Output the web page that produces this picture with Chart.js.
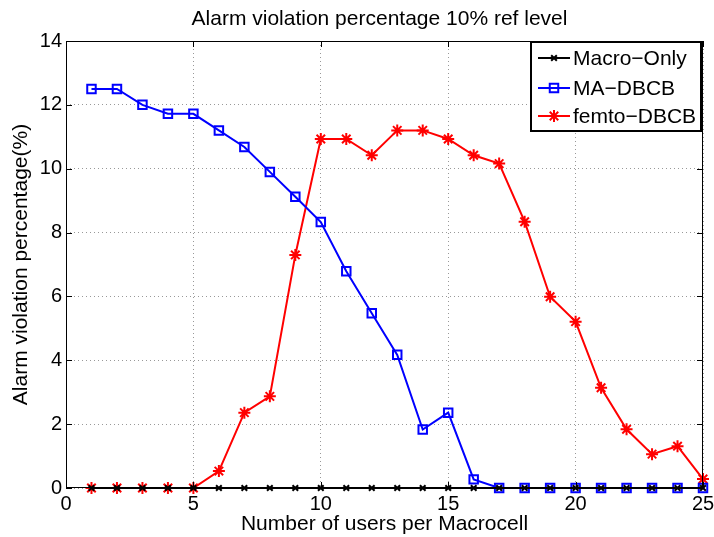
<!DOCTYPE html>
<html>
<head>
<meta charset="utf-8">
<script src="https://cdn.jsdelivr.net/npm/chart.js@4.4.1/dist/chart.umd.min.js"></script>
<style>
  html, body { margin: 0; padding: 0; background: #fff; }
  #wrap { width: 714px; height: 537px; position: relative; }
</style>
</head>
<body>
<div id="wrap"><canvas id="chart"></canvas></div>
<script>
// ── Data ──────────────────────────────────────────────────────────────────────
const users = [1, 2, 3, 4, 5, 6, 7, 8, 9, 10, 11, 12, 13, 14, 15, 16, 17, 18, 19, 20, 21, 22, 23, 24, 25];
const macroOnly = [0, 0, 0, 0, 0, 0, 0, 0, 0, 0, 0, 0, 0, 0, 0, 0, 0, 0, 0, 0, 0, 0, 0, 0, 0];
const maDbcb = [12.5, 12.5, 12.0, 11.72, 11.72, 11.2, 10.68, 9.9, 9.12, 8.33, 6.79, 5.47, 4.17, 1.83, 2.36, 0.27, 0, 0, 0, 0, 0, 0, 0, 0, 0];
const femtoDbcb = [0, 0, 0, 0, 0, 0.53, 2.36, 2.87, 7.3, 10.93, 10.93, 10.42, 11.2, 11.2, 10.93, 10.42, 10.16, 8.34, 5.99, 5.21, 3.14, 1.84, 1.06, 1.31, 0.28];
const seriesNames = ['Macro\u2212Only', 'MA\u2212DBCB', 'femto\u2212DBCB'];
const xTicks = [0, 5, 10, 15, 20, 25];
const yTicks = [0, 2, 4, 6, 8, 10, 12, 14];
const titleText = 'Alarm violation percentage 10% ref level';

const FONT = "'Liberation Sans', Arial, Helvetica, sans-serif";
const pts = arr => arr.map((v, i) => ({ x: users[i], y: v }));

// ── Plugins ───────────────────────────────────────────────────────────────────
// title centred over the axes (MATLAB style)
const axesTitle = {
    id: 'axesTitle',
    afterDraw(chart) {
        const { ctx, chartArea: a } = chart;
        ctx.save();
        ctx.font = `21px ${FONT}`;
        ctx.fillStyle = '#000';
        ctx.textAlign = 'center';
        ctx.textBaseline = 'alphabetic';
        ctx.fillText(titleText, (a.left + a.right) / 2 - 5, 25);
        ctx.restore();
    }
};

// box round the axes + inward ticks
const boxPlugin = {
    id: 'box',
    afterDraw(chart) {
        const { ctx, chartArea: a, scales } = chart;
        ctx.save();
        ctx.strokeStyle = '#000';
        ctx.lineWidth = 1;
        ctx.strokeRect(a.left + 0.5, a.top + 0.5, a.right - a.left - 1, a.bottom - a.top - 1);
        ctx.beginPath();
        xTicks.forEach(t => {
            const x = Math.round(scales.x.getPixelForValue(t)) + 0.5;
            ctx.moveTo(x, a.bottom); ctx.lineTo(x, a.bottom - 6);
            ctx.moveTo(x, a.top); ctx.lineTo(x, a.top + 6);
        });
        yTicks.forEach(t => {
            const y = Math.round(scales.y.getPixelForValue(t)) + 0.5;
            ctx.moveTo(a.left, y); ctx.lineTo(a.left + 6, y);
            ctx.moveTo(a.right, y); ctx.lineTo(a.right - 6, y);
        });
        ctx.stroke();
        ctx.restore();
    }
};

// legend drawn inside the plot, top right
const insideLegend = {
    id: 'insideLegend',
    afterDraw(chart) {
        const { ctx, chartArea: a } = chart;
        const w = 170, h = 89;
        const x0 = a.right - 2 - w, y0 = a.top + 1;
        ctx.save();
        ctx.fillStyle = '#fff';
        ctx.fillRect(x0, y0, w, h);
        ctx.strokeStyle = '#000';
        ctx.lineWidth = 2;
        ctx.strokeRect(x0, y0, w, h);
        ctx.font = `21px ${FONT}`;
        ctx.textBaseline = 'middle';
        const rows = [16, 46, 74];
        chart.data.datasets.forEach((ds, i) => {
            const y = y0 + rows[i];
            ctx.strokeStyle = ds.borderColor;
            ctx.lineWidth = 2;
            ctx.beginPath();
            ctx.moveTo(x0 + 7, y); ctx.lineTo(x0 + 39, y);
            ctx.stroke();
            ctx.fillStyle = 'rgba(0,0,0,0)';
            Chart.helpers.drawPoint(ctx, {
                pointStyle: ds.pointStyle, radius: ds.pointRadius, borderWidth: ds.pointBorderWidth || 2
            }, x0 + 23, y);
            ctx.fillStyle = '#000';
            ctx.fillText(ds.label, x0 + 42, y + 1);
        });
        ctx.restore();
    }
};

// ── Chart ─────────────────────────────────────────────────────────────────────
Chart.defaults.font.family = FONT;
Chart.defaults.color = '#000';

new Chart(document.getElementById('chart'), {
    type: 'line',
    data: {
        datasets: [
            {
                label: seriesNames[0], data: pts(macroOnly), clip: false,
                borderColor: '#000', backgroundColor: 'rgba(0,0,0,0)',
                pointStyle: 'crossRot', pointRadius: 4, pointBorderWidth: 2, borderWidth: 2
            },
            {
                label: seriesNames[1], data: pts(maDbcb), clip: false,
                borderColor: '#0000FF', backgroundColor: 'rgba(0,0,0,0)',
                pointStyle: 'rect', pointRadius: 6, pointBorderWidth: 2, borderWidth: 2
            },
            {
                label: seriesNames[2], data: pts(femtoDbcb), clip: false,
                borderColor: '#FF0000', backgroundColor: 'rgba(0,0,0,0)',
                pointStyle: 'star', pointRadius: 6, pointBorderWidth: 2, borderWidth: 2
            }
        ]
    },
    options: {
        responsive: true, maintainAspectRatio: false, animation: false,
        layout: { padding: { left: 0, right: 4, top: 41, bottom: 0 } },
        plugins: {
            legend: { display: false },
            tooltip: { enabled: false },
            title: { display: false }
        },
        scales: {
            x: {
                type: 'linear', min: 0, max: 25,
                afterBuildTicks: s => { s.ticks = xTicks.map(v => ({ value: v })); },
                afterFit: s => { s.height = 49; s.paddingRight = 11; },
                ticks: { font: { size: 20 }, padding: 4, maxRotation: 0 },
                grid: { color: '#999', tickLength: 0, lineWidth: 1 },
                border: { dash: [1, 3], display: false },
                title: { display: true, text: 'Number of users per Macrocell', font: { size: 21 }, padding: { top: 0, bottom: 0 } }
            },
            y: {
                min: 0, max: 14,
                afterBuildTicks: s => { s.ticks = yTicks.map(v => ({ value: v })); },
                afterFit: s => { s.width = 66; },
                ticks: { font: { size: 20 }, padding: 4 },
                grid: { color: '#999', tickLength: 0, lineWidth: 1 },
                border: { dash: [1, 3], display: false },
                title: { display: true, text: 'Alarm violation percentage(%)', font: { size: 21 }, padding: { top: 9, bottom: 0 } }
            }
        }
    },
    plugins: [boxPlugin, insideLegend, axesTitle]
});
</script>
</body>
</html>
